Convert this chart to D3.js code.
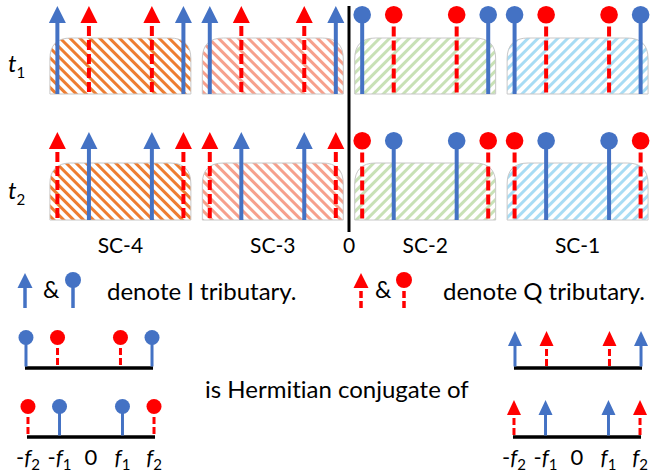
<!DOCTYPE html>
<html>
<head>
<meta charset="utf-8">
<script src="https://cdn.jsdelivr.net/npm/d3@7"></script>
<style>
  body { margin: 0; background: #fff; }
  text { font-family: Lato, "Open Sans", sans-serif; fill: #000; font-variant-ligatures: none; }
</style>
</head>
<body>
<div id="chart"></div>
<script>
const width = 650;
const height = 473;

// subcarriers, left to right on the frequency axis
const subcarriers = ["SC-4", "SC-3", "SC-2", "SC-1"];
const scCenters = [-3, -1, 1, 3];
const scMarkers = ["arrow", "arrow", "circle", "circle"];

// tones inside each subcarrier (in frequency units)
const toneOffsets = [-0.827, -0.413, 0.413, 0.827];
const boxHalf = 0.925;

// which tributary sits on each tone, per time slot
const timeSlots = ["1", "2"];
const slotTributary = [
    ["I", "Q", "Q", "I"],
    ["Q", "I", "I", "Q"]
];

const freqLabels = [["-", "f", "2"], ["-", "f", "1"], ["", "0", ""], ["", "f", "1"], ["", "f", "2"]];
const freqLabelPos = [-0.827, -0.413, 0, 0.413, 0.827];

const blue = "#4472C4";
const red = "#FF0000";
const hatch = { "SC-4": ["#ED7D31", -45], "SC-3": ["#F6A08C", -45], "SC-2": ["#C8E1B6", 45], "SC-1": ["#A8DCF4", 45] };

const svg = d3.select("#chart")
    .append("svg")
    .attr("width", width)
    .attr("height", height);

const x = d3.scaleLinear().domain([-4, 4]).range([349 - 4 * 76.2, 349 + 4 * 76.2]);

// hatch patterns
const defs = svg.append("defs");
subcarriers.forEach((sc, i) => {
    const p = defs.append("pattern")
        .attr("id", "hatch" + i)
        .attr("patternUnits", "userSpaceOnUse")
        .attr("width", 7).attr("height", 7)
        .attr("patternTransform", `rotate(${hatch[sc][1]})`);
    p.append("rect").attr("width", 7).attr("height", 7).attr("fill", "#fff");
    p.append("rect").attr("width", 3).attr("height", 7).attr("fill", hatch[sc][0]);
});

function boxPath(x0, x1, y0, y1, r) {
    return `M${x0},${y1} L${x0},${y0 + r} Q${x0},${y0} ${x0 + r},${y0} L${x1 - r},${y0} Q${x1},${y0} ${x1},${y0 + r} L${x1},${y1} Z`;
}

// one tone: arrow or lollipop, solid blue (I) or dashed red (Q)
function drawTone(g, cx, tipY, baseY, marker, trib, s) {
    const color = trib === "I" ? blue : red;
    let stemTop;
    if (marker === "arrow") {
        g.append("path")
            .attr("d", `M${cx},${tipY} L${cx + s.hw},${tipY + s.hh} L${cx - s.hw},${tipY + s.hh} Z`)
            .attr("fill", color);
        stemTop = tipY + s.hh + (trib === "Q" ? 3 : 0);
    } else {
        g.append("circle")
            .attr("cx", cx).attr("cy", tipY + s.r).attr("r", s.r)
            .attr("fill", color);
        stemTop = tipY + 2 * s.r + (trib === "Q" ? 3 : -1);
    }
    g.append("line")
        .attr("x1", cx).attr("x2", cx)
        .attr("y1", stemTop).attr("y2", baseY)
        .attr("stroke", color)
        .attr("stroke-width", s.sw)
        .attr("stroke-dasharray", trib === "Q" ? s.dash : null);
}

const bigMark = { hw: 8.5, hh: 17, r: 8.8, sw: 4, dash: "10,4" };
const rows = [
    { tip: 6, top: 38, bottom: 94 },
    { tip: 132, top: 163, bottom: 220 }
];

rows.forEach((row, ri) => {
    const g = svg.append("g");
    subcarriers.forEach((sc, i) => {
        g.append("path")
            .attr("d", boxPath(x(scCenters[i] - boxHalf), x(scCenters[i] + boxHalf), row.top, row.bottom, 21))
            .attr("fill", `url(#hatch${i})`)
            .attr("stroke", "#C8C8C8")
            .attr("stroke-width", 1);
    });
    subcarriers.forEach((sc, i) => {
        toneOffsets.forEach((o, k) => {
            drawTone(g, x(scCenters[i] + o), row.tip, row.bottom, scMarkers[i], slotTributary[ri][k], bigMark);
        });
    });
    const t = svg.append("text")
        .attr("x", 8).attr("y", ri === 0 ? 72 : 199)
        .style("font-size", "24px");
    t.append("tspan").style("font-style", "italic").text("t");
    t.append("tspan").attr("dy", 6).style("font-size", "15px").text(timeSlots[ri]);
});

// zero frequency line
svg.append("line")
    .attr("x1", x(0)).attr("x2", x(0))
    .attr("y1", 6).attr("y2", 232)
    .attr("stroke", "#000").attr("stroke-width", 3);

// subcarrier labels
svg.selectAll(".sclabel")
    .data(subcarriers)
    .enter()
    .append("text")
    .attr("x", (d, i) => x(scCenters[i]))
    .attr("y", 253)
    .attr("text-anchor", "middle")
    .style("font-size", "21px")
    .text(d => d);

svg.append("text")
    .attr("x", x(0)).attr("y", 253)
    .attr("text-anchor", "middle")
    .style("font-size", "21px")
    .text("0");

// legend
const legMark = { hw: 7.5, hh: 15, r: 8, sw: 3.5, dash: "7,3" };
const leg = svg.append("g");
drawTone(leg, 25, 273, 308, "arrow", "I", legMark);
drawTone(leg, 73, 272, 308, "circle", "I", legMark);
drawTone(leg, 361, 273, 308, "arrow", "Q", legMark);
drawTone(leg, 404, 272, 308, "circle", "Q", legMark);
leg.append("text").attr("x", 43).attr("y", 298).style("font-size", "23px").text("&");
leg.append("text").attr("x", 375).attr("y", 298).style("font-size", "23px").text("&");
leg.append("text").attr("x", 107).attr("y", 300).style("font-size", "24px").text("denote I tributary.");
leg.append("text").attr("x", 443).attr("y", 300).style("font-size", "24px").text("denote Q tributary.");

// Hermitian conjugate illustration
const smallMark = { hw: 7, hh: 15, r: 7.5, sw: 3, dash: "7,3" };
const groups = [
    { c: 89, tip: 330, base: 368, marker: "circle", trib: slotTributary[0], labels: false },
    { c: 578, tip: 331, base: 368, marker: "arrow", trib: slotTributary[0], labels: false },
    { c: 91, tip: 399, base: 437, marker: "circle", trib: slotTributary[1], labels: true },
    { c: 577, tip: 400, base: 437, marker: "arrow", trib: slotTributary[1], labels: true }
];

groups.forEach(gr => {
    const gx = d3.scaleLinear().domain([-1, 1]).range([gr.c - 76.2, gr.c + 76.2]);
    const g = svg.append("g");
    g.append("line")
        .attr("x1", gx(toneOffsets[0]) - 1).attr("x2", gx(toneOffsets[3]) + 1)
        .attr("y1", gr.base).attr("y2", gr.base)
        .attr("stroke", "#000").attr("stroke-width", 3.5);
    toneOffsets.forEach((o, k) => {
        drawTone(g, gx(o), gr.tip, gr.base - 1.5, gr.marker, gr.trib[k], smallMark);
    });
    if (gr.labels) {
        freqLabels.forEach((lab, k) => {
            const t = g.append("text")
                .attr("x", gx(freqLabelPos[k]))
                .attr("y", 465)
                .attr("text-anchor", "middle")
                .style("font-size", "22px");
            if (lab[0]) t.append("tspan").text(lab[0]);
            t.append("tspan").style("font-style", lab[1] === "f" ? "italic" : "normal").text(lab[1]);
            if (lab[2]) t.append("tspan").attr("dy", 5).style("font-size", "15px").text(lab[2]);
        });
    }
});

svg.append("text")
    .attr("x", 205).attr("y", 398)
    .style("font-size", "24px")
    .text("is Hermitian conjugate of");
</script>
</body>
</html>
